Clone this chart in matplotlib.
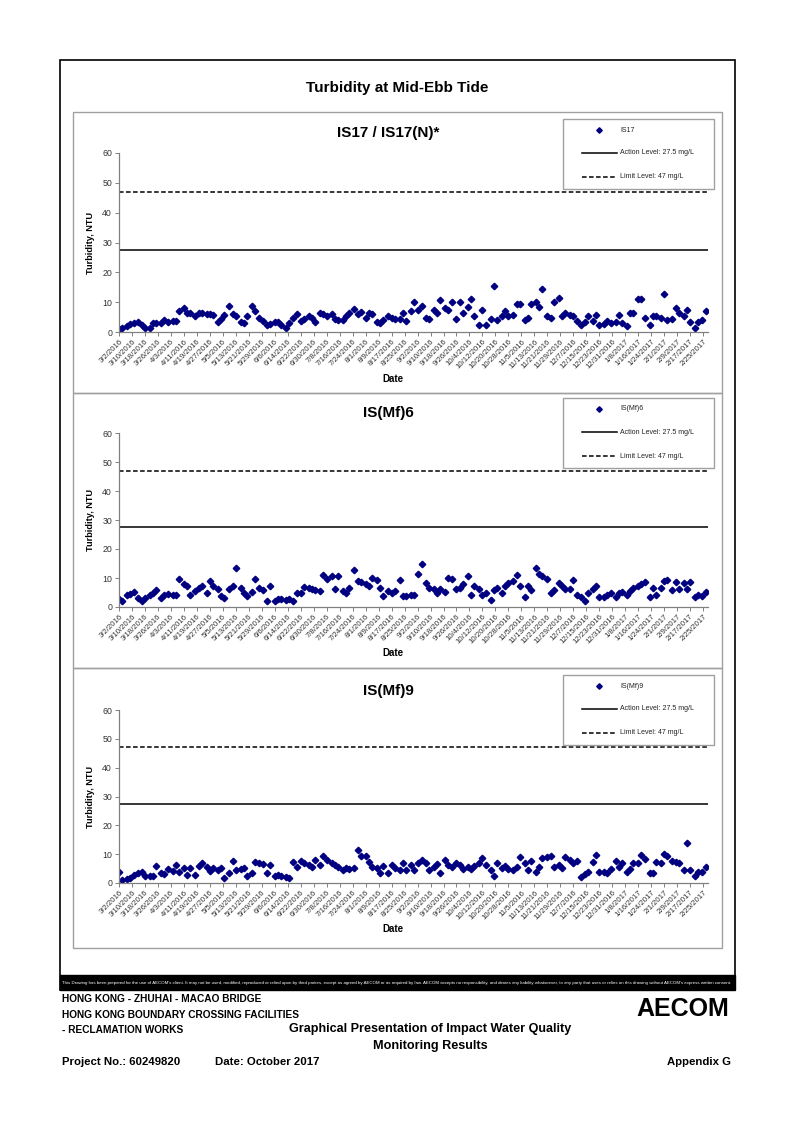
import matplotlib
matplotlib.use('Agg')
import matplotlib.pyplot as plt
from matplotlib.patches import Rectangle
from matplotlib.lines import Line2D
from matplotlib import font_manager
import pandas as pd

plt.rcParams['font.family'] = ['Liberation Sans', 'DejaVu Sans']

installed = {f.name for f in font_manager.fontManager.ttflist}
has_narrow = 'Liberation Sans Narrow' in installed
narrow = 'Liberation Sans Narrow' if has_narrow else 'Liberation Sans'
# footer text is a condensed face; shrink a bit when it is missing
fs = 1.0 if has_narrow else 0.93

# sampling days (Mon / Wed / Fri)
sample_dates = [
    '3/2/2016', '3/4/2016', '3/7/2016', '3/9/2016', '3/11/2016', '3/14/2016', '3/16/2016', '3/18/2016',
    '3/21/2016', '3/23/2016', '3/25/2016', '3/28/2016', '3/30/2016',
    '4/1/2016', '4/4/2016', '4/6/2016', '4/8/2016', '4/11/2016', '4/13/2016', '4/15/2016', '4/18/2016',
    '4/20/2016', '4/22/2016', '4/25/2016', '4/27/2016', '4/29/2016',
    '5/2/2016', '5/4/2016', '5/6/2016', '5/9/2016', '5/11/2016', '5/13/2016', '5/16/2016', '5/18/2016',
    '5/20/2016', '5/23/2016', '5/25/2016', '5/27/2016', '5/30/2016',
    '6/1/2016', '6/3/2016', '6/6/2016', '6/8/2016', '6/10/2016', '6/13/2016', '6/15/2016', '6/17/2016',
    '6/20/2016', '6/22/2016', '6/24/2016', '6/27/2016', '6/29/2016',
    '7/1/2016', '7/4/2016', '7/6/2016', '7/8/2016', '7/11/2016', '7/13/2016', '7/15/2016', '7/18/2016',
    '7/20/2016', '7/22/2016', '7/25/2016', '7/27/2016', '7/29/2016',
    '8/1/2016', '8/3/2016', '8/5/2016', '8/8/2016', '8/10/2016', '8/12/2016', '8/15/2016', '8/17/2016',
    '8/19/2016', '8/22/2016', '8/24/2016', '8/26/2016', '8/29/2016', '8/31/2016',
    '9/2/2016', '9/5/2016', '9/7/2016', '9/9/2016', '9/12/2016', '9/14/2016', '9/16/2016', '9/19/2016',
    '9/21/2016', '9/23/2016', '9/26/2016', '9/28/2016', '9/30/2016',
    '10/3/2016', '10/5/2016', '10/7/2016', '10/10/2016', '10/12/2016', '10/14/2016', '10/17/2016',
    '10/19/2016', '10/21/2016', '10/24/2016', '10/26/2016', '10/28/2016', '10/31/2016',
    '11/2/2016', '11/4/2016', '11/7/2016', '11/9/2016', '11/11/2016', '11/14/2016', '11/16/2016',
    '11/18/2016', '11/21/2016', '11/23/2016', '11/25/2016', '11/28/2016', '11/30/2016',
    '12/2/2016', '12/5/2016', '12/7/2016', '12/9/2016', '12/12/2016', '12/14/2016', '12/16/2016',
    '12/19/2016', '12/21/2016', '12/23/2016', '12/26/2016', '12/28/2016', '12/30/2016',
    '1/2/2017', '1/4/2017', '1/6/2017', '1/9/2017', '1/11/2017', '1/13/2017', '1/16/2017', '1/18/2017',
    '1/20/2017', '1/23/2017', '1/25/2017', '1/27/2017', '1/30/2017',
    '2/1/2017', '2/3/2017', '2/6/2017', '2/8/2017', '2/10/2017', '2/13/2017', '2/15/2017', '2/17/2017',
    '2/20/2017', '2/22/2017', '2/24/2017', '2/27/2017',
]

is17 = [
    0.9, 1.5, 2.0, 2.6, 3.1, 3.3, 2.4, 1.2, 1.5, 3.1, 3.1, 3.1, 3.9, 3.4, 3.8, 3.8, 7.2, 7.9, 6.5, 6.3,
    5.4, 6.3, 6.3, 6.0, 6.0, 5.7, 3.5, 4.3, 5.6, 8.8, 6.2, 5.4, 3.5, 3.1, 5.2, 8.8, 7.2, 4.8, 3.6, 2.2,
    2.6, 3.5, 3.5, 2.4, 1.5, 2.9, 4.6, 6.0, 3.7, 4.3, 5.2, 4.8, 3.5, 6.3, 6.0, 5.2, 6.0, 4.3, 4.0, 4.0,
    5.4, 6.5, 7.6, 6.0, 6.8, 4.6, 6.5, 6.0, 3.5, 3.1, 4.0, 5.4, 4.6, 4.3, 4.3, 6.5, 3.8, 7.2, 10.2, 7.4,
    8.8, 4.6, 4.3, 7.4, 6.5, 10.6, 7.9, 7.4, 10.2, 4.3, 10.2, 6.5, 8.5, 11.2, 5.4, 2.4, 7.4, 2.4, 4.3, 15.5,
    4.1, 5.2, 6.9, 5.2, 5.7, 9.4, 9.4, 4.0, 4.6, 9.4, 10.2, 8.3, 14.4, 5.4, 4.8, 10.2, 11.3, 5.2, 6.3, 5.7,
    5.2, 3.7, 2.4, 3.5, 5.2, 3.7, 5.7, 2.4, 2.6, 3.7, 2.9, 3.5, 5.7, 2.9, 2.0, 6.5, 6.3, 11.2, 11.2, 4.8,
    2.4, 5.2, 5.4, 4.6, 12.7, 4.0, 4.3, 8.2, 6.3, 5.4, 7.4, 3.5, 1.2, 3.5, 4.0, 7.2,
]

mf6 = [
    2.6, 1.9, 4.0, 4.5, 5.1, 3.1, 2.2, 3.1, 4.3, 4.9, 5.7, 3.1, 4.0, 4.5, 4.2, 4.3, 9.5, 8.0, 7.2, 4.3,
    5.5, 6.6, 7.2, 4.9, 9.0, 7.4, 6.1, 3.7, 3.1, 6.1, 7.2, 13.3, 6.4, 4.9, 3.7, 5.2, 9.8, 6.6, 5.8, 2.2,
    7.2, 2.2, 2.6, 2.9, 2.3, 2.6, 2.2, 4.9, 4.9, 7.0, 6.6, 6.1, 5.8, 5.5, 10.9, 9.5, 10.7, 6.1, 10.7, 5.5,
    4.7, 6.6, 12.8, 9.0, 8.6, 8.0, 7.2, 10.1, 9.3, 6.6, 3.7, 5.5, 4.9, 5.5, 9.3, 3.7, 3.7, 4.0, 4.3, 11.3,
    14.8, 8.4, 6.6, 6.1, 4.9, 6.1, 5.1, 10.1, 9.5, 6.1, 6.6, 7.8, 10.7, 4.3, 7.4, 6.1, 4.3, 4.9, 2.3, 5.8,
    6.6, 4.9, 7.4, 8.4, 9.0, 10.9, 7.2, 3.5, 7.2, 5.7, 13.3, 11.3, 10.7, 9.8, 4.9, 5.8, 8.4, 7.2, 6.1, 6.3,
    9.3, 4.0, 3.5, 2.2, 4.9, 6.3, 7.2, 3.5, 3.5, 4.0, 4.9, 3.5, 4.9, 5.1, 4.0, 5.5, 6.6, 7.2, 8.1, 8.6,
    3.5, 6.6, 4.3, 6.6, 9.0, 9.3, 5.7, 8.6, 6.3, 8.4, 6.3, 8.6, 3.5, 4.0, 3.7, 5.1,
]

mf9 = [
    3.9, 1.0, 1.3, 1.6, 2.8, 3.3, 3.9, 2.4, 2.4, 2.4, 5.9, 3.6, 3.1, 4.7, 4.3, 6.4, 3.9, 5.1, 2.8, 5.1,
    2.8, 5.9, 6.8, 5.6, 4.3, 5.1, 4.5, 5.1, 1.6, 3.6, 7.7, 4.5, 4.7, 5.1, 2.4, 3.3, 7.4, 6.8, 6.6, 3.3,
    6.4, 2.4, 2.8, 2.4, 2.2, 1.8, 7.4, 5.4, 7.7, 7.0, 6.2, 5.6, 7.9, 6.2, 9.3, 7.9, 7.0, 6.2, 5.6, 4.5,
    5.1, 4.7, 5.1, 11.4, 9.3, 9.3, 7.4, 5.4, 5.3, 3.6, 5.9, 3.6, 6.4, 5.1, 4.5, 6.8, 4.5, 6.4, 4.5, 6.8,
    7.9, 7.0, 4.5, 5.6, 6.6, 3.6, 7.9, 6.2, 5.6, 7.0, 6.2, 4.7, 5.6, 4.7, 5.9, 7.0, 8.5, 6.2, 4.5, 2.4,
    7.0, 5.1, 5.9, 4.7, 4.5, 5.6, 8.9, 6.8, 4.5, 7.7, 3.9, 5.6, 8.5, 9.1, 9.3, 5.6, 6.2, 5.1, 9.1, 7.9,
    6.8, 7.7, 2.2, 3.1, 3.9, 7.4, 9.7, 3.9, 3.9, 3.6, 4.7, 7.7, 5.6, 6.8, 3.9, 4.7, 6.8, 7.0, 9.7, 8.2,
    3.6, 3.6, 7.4, 6.8, 10.2, 9.3, 7.7, 7.4, 6.8, 4.5, 13.7, 4.5, 2.4, 3.9, 3.9, 5.4,
]

action_level = 27.5
limit_level = 47
panel_titles = ['IS17 / IS17(N)*', 'IS(Mf)6', 'IS(Mf)9']
series_names = ['IS17', 'IS(Mf)6', 'IS(Mf)9']
series_values = [is17, mf6, mf9]
y_ticks = [0, 10, 20, 30, 40, 50, 60]

dates = pd.to_datetime(sample_dates, format='%m/%d/%Y')
tick_dates = pd.date_range('2016-03-02', '2017-02-25', freq='8D')
tick_labels = [f'{d.month}/{d.day}/{d.year}' for d in tick_dates]

W, H = 794, 1122
fig = plt.figure(figsize=(W / 100, H / 100), dpi=100)


def fx(px):
    return px / W


def fy(py):
    return 1 - py / H


def frect(x0, y0, x1, y1, **kw):
    r = Rectangle((fx(x0), fy(y1)), fx(x1) - fx(x0), fy(y0) - fy(y1),
                  transform=fig.transFigure, **kw)
    fig.add_artist(r)
    return r


# outer frame + disclaimer bar
frect(60, 60, 735, 990, fill=False, edgecolor='black', lw=1.2)
frect(60, 975, 735, 990, facecolor='black', edgecolor='black', lw=1)
fig.text(fx(397), fy(983),
         "This Drawing has been prepared for the use of AECOM's client. It may not be used, modified, reproduced or "
         "relied upon by third parties, except as agreed by AECOM or as required by law. AECOM accepts no responsibility, "
         "and denies any liability whatsoever, to any party that uses or relies on this drawing without AECOM's express written consent.",
         color='white', fontsize=3.2, family=narrow, ha='center', va='center')

fig.text(fx(397), fy(88), 'Turbidity at Mid-Ebb Tide', fontsize=11, fontweight='bold',
         ha='center', va='center')

box_top = [112, 393, 668]
box_bottom = [393, 668, 948]
ax_top = [153, 433, 710]
ax_bottom = [332, 607, 883]
title_y = [133, 413, 691]
leg_top = [119, 398, 675]

x_min = pd.Timestamp('2016-03-02')
x_max = pd.Timestamp('2017-02-28')

for i in range(3):
    frect(73, box_top[i], 722, box_bottom[i], fill=False, edgecolor='#a0a0a0', lw=1)

    ax = fig.add_axes([fx(119), fy(ax_bottom[i]), fx(708) - fx(119), fy(ax_top[i]) - fy(ax_bottom[i])])
    ax.plot(dates, series_values[i], linestyle='none', marker='D', markersize=3.3,
            color='#000080', markeredgecolor='#000080')
    ax.axhline(action_level, color='black', lw=1.1)
    ax.axhline(limit_level, color='black', lw=1.1, linestyle=(0, (3, 1.6)))
    ax.set_xlim(x_min, x_max)
    ax.set_ylim(0, 60)
    ax.set_yticks(y_ticks)
    ax.set_xticks(tick_dates)
    ax.set_xticklabels(tick_labels, rotation=45, ha='right', rotation_mode='anchor', fontsize=5.6)
    ax.tick_params(axis='y', labelsize=6.3, length=3, width=0.7, color='#808080', pad=2, labelcolor='#333333')
    ax.tick_params(axis='x', length=3, width=0.7, color='#808080', pad=1.5, labelcolor='#333333')
    for s in ['top', 'right']:
        ax.spines[s].set_visible(False)
    for s in ['left', 'bottom']:
        ax.spines[s].set_color('#808080')
        ax.spines[s].set_linewidth(0.9)
    ax.set_ylabel('Turbidity, NTU', fontsize=6.6, fontweight='bold')
    ax.yaxis.set_label_coords(-0.04, 0.5)
    ax.set_xlabel('Date', fontsize=7, fontweight='bold')
    ax.xaxis.set_label_coords(0.465, -0.235)

    fig.text(fx(388), fy(title_y[i]), panel_titles[i], fontsize=11, fontweight='bold',
             ha='center', va='center')

    # legend box
    t = leg_top[i]
    frect(563, t, 714, t + 70, facecolor='white', edgecolor='#a0a0a0', lw=1)
    fig.add_artist(Line2D([fx(599)], [fy(t + 11)], marker='D', markersize=2.8, color='#000080',
                          linestyle='none', transform=fig.transFigure))
    fig.add_artist(Line2D([fx(582), fx(617)], [fy(t + 34)] * 2, color='black', lw=1.1,
                          transform=fig.transFigure))
    fig.add_artist(Line2D([fx(582), fx(617)], [fy(t + 58)] * 2, color='black', lw=1.1,
                          linestyle=(0, (3, 1.6)), transform=fig.transFigure))
    fig.text(fx(620), fy(t + 11), series_names[i], fontsize=5, va='center', color='#222222')
    fig.text(fx(620), fy(t + 34), 'Action Level: 27.5 mg/L', fontsize=5, va='center', color='#222222')
    fig.text(fx(620), fy(t + 58), 'Limit Level: 47 mg/L', fontsize=5, va='center', color='#222222')

# footer
fig.text(fx(62), fy(999), 'HONG KONG - ZHUHAI - MACAO BRIDGE', fontsize=7.8 * fs, fontweight='bold',
         family=narrow, va='center')
fig.text(fx(62), fy(1015), 'HONG KONG BOUNDARY CROSSING FACILITIES', fontsize=7.8 * fs, fontweight='bold',
         family=narrow, va='center')
fig.text(fx(62), fy(1030), '- RECLAMATION WORKS', fontsize=7.8 * fs, fontweight='bold',
         family=narrow, va='center')
fig.text(fx(430), fy(1029), 'Graphical Presentation of Impact Water Quality', fontsize=9.8 * fs,
         fontweight='bold', family=narrow, ha='center', va='center')
fig.text(fx(430), fy(1046), 'Monitoring Results', fontsize=9.8 * fs, fontweight='bold', family=narrow,
         ha='center', va='center')
fig.text(fx(62), fy(1062), 'Project No.: 60249820', fontsize=8.8 * fs, fontweight='bold', family=narrow,
         va='center')
fig.text(fx(215), fy(1062), 'Date: October 2017', fontsize=8.8 * fs, fontweight='bold', family=narrow,
         va='center')
fig.text(fx(731), fy(1062), 'Appendix G', fontsize=8.8 * fs, fontweight='bold', family=narrow,
         ha='right', va='center')
fig.text(fx(729), fy(1009), 'AECOM', fontsize=18, fontweight='heavy', ha='right', va='center')

fig.savefig('out.png', dpi=100)
